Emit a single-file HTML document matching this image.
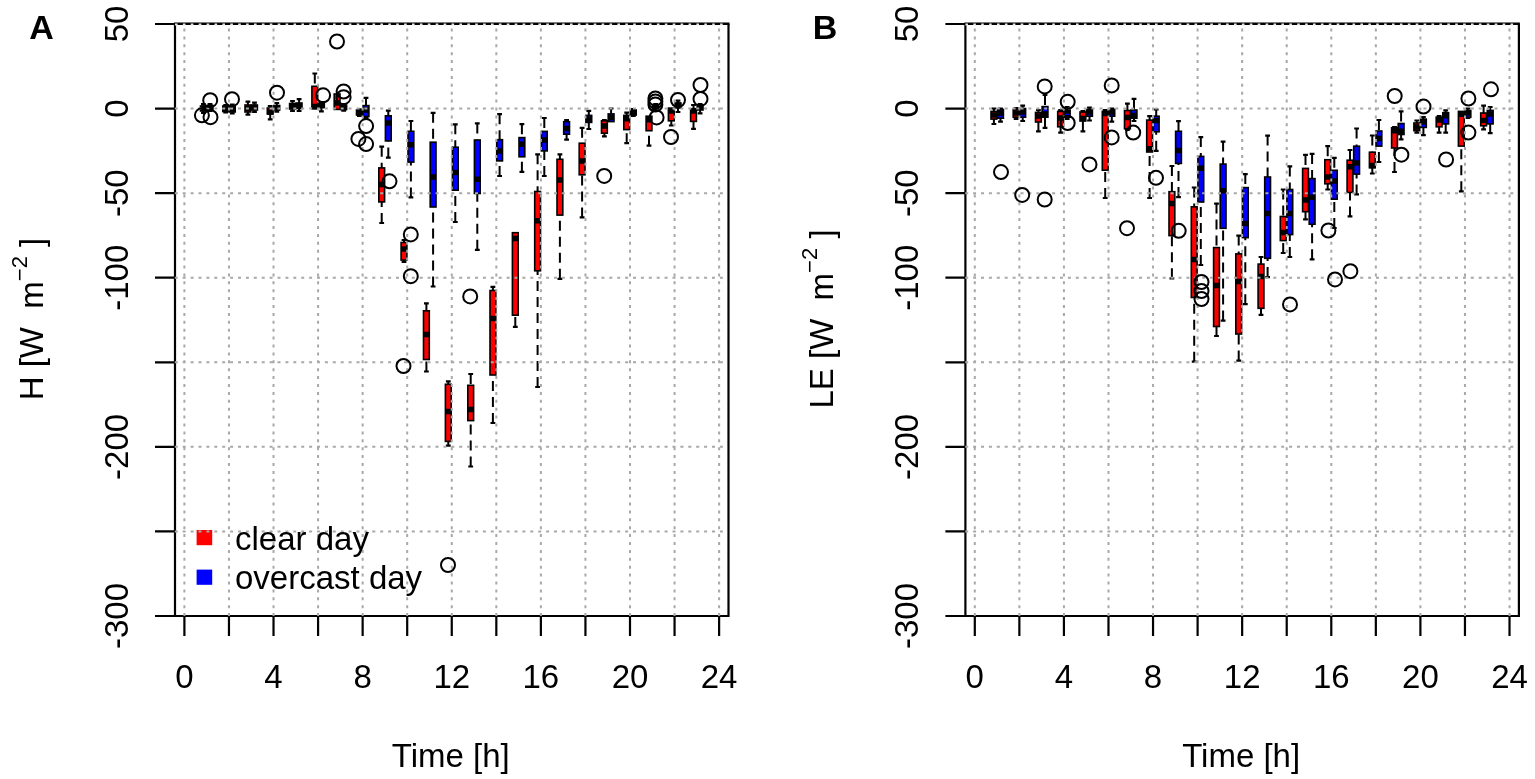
<!DOCTYPE html>
<html><head><meta charset="utf-8"><title>H and LE boxplots</title>
<style>
html,body{margin:0;padding:0;background:#fff;}
body{width:1535px;height:779px;overflow:hidden;}
svg{display:block;}
.t{font-family:'Liberation Sans',Arial,sans-serif;font-size:33px;fill:#000;}
.lab{font-family:'Liberation Sans',Arial,sans-serif;font-size:34px;font-weight:bold;fill:#000;}
</style></head>
<body>
<svg width="1535" height="779" viewBox="0 0 1535 779">
<rect width="1535" height="779" fill="#fff"/>
<path d="M175 24V616H728.5V24" stroke="#000" stroke-width="2.2" fill="none"/>
<path d="M174 23.8H729.5" stroke="#000" stroke-width="2.6" fill="none"/>
<path d="M155 24H175M155 108.57H175M155 193.14H175M155 277.71H175M155 362.29H175M155 446.86H175M155 531.43H175M155 616H175M184.4 616V636M228.96 616V636M273.52 616V636M318.08 616V636M362.64 616V636M407.2 616V636M451.76 616V636M496.32 616V636M540.88 616V636M585.44 616V636M630 616V636M674.56 616V636M719.12 616V636" stroke="#000" stroke-width="2.2" fill="none"/>
<path d="M203.4 104V106M203.4 113V111M210 104V105.5M210 111V109.5M225.7 105V106M225.7 112.5V111.5M232.3 104.5V106M232.3 113.5V112M247.9 101.6V105M247.9 114.6V112M254.5 102.7V105M254.5 112V110M270.2 106V108M270.2 119.3V114M276.8 103V105.5M276.8 111.6V110M292.5 101V103.5M292.5 110.8V109M299.1 99.2V103M299.1 111V108.5M314.8 73.5V86.3M321.4 102V103M321.4 111.3V107.5M343.7 104V105M343.7 110.7V109.5M359.4 109.4V110M359.4 115.8V115M366 97.9V105.6M366 118V116.5M381.7 146.7V167.9M381.7 223V201.9M388.3 110.7V115.8M388.3 157.6V140.9M404 240V242.5M404 262V260.1M410.9 121V131.3M410.9 197.4V162.1M426.4 303.4V310.8M426.4 371.5V359.5M433.1 112.8V142.2M433.1 286.5V207M448.3 381.4V384.3M448.3 445.6V441.4M455.3 124.3V147.2M455.3 222V190.2M470.7 374V385.3M470.7 466.5V420.6M477.3 123.4V140M477.3 249.8V193.5M492.9 286.8V290.5M492.9 423V375M499.6 114.2V139.7M499.6 176V160.9M515.3 326.9V315.2M521.9 124.2V137.6M521.9 171.8V156.8M537.6 154.3V191.5M537.6 387V270.8M544.3 118V131.4M544.3 176V150.9M559.9 154.3V159.3M559.9 278.8V215.1M566.6 120V121.7M566.6 139.7V134.2M582.1 127.8V143.2M582.1 217.4V174.8M588.8 110.8V115.4M588.8 129V122.4M604.4 120V120.8M604.4 136.3V133.2M611.1 108.5V113.9M626.7 112.7V115.4M626.7 143.2V129.6M633.3 109V110M633.3 116V115M649 145.7V130.7M655.6 104V105M655.6 111V109.5M671.3 125.5V120.8M678 100.6V103M678 112V108M693.5 105V108.7M693.5 128.9V121.4M700.1 104V105M700.1 113.3V110" stroke="#000" stroke-width="2" stroke-dasharray="10 6" fill="none"/>
<path d="M201 104H205.8M201 113H205.8M207.6 104H212.4M207.6 111H212.4M223.3 105H228.1M223.3 112.5H228.1M229.9 104.5H234.7M229.9 113.5H234.7M245.5 101.6H250.3M245.5 114.6H250.3M252.1 102.7H256.9M252.1 112H256.9M267.8 106H272.6M267.8 119.3H272.6M274.4 103H279.2M274.4 111.6H279.2M290.1 101H294.9M290.1 110.8H294.9M296.7 99.2H301.5M296.7 111H301.5M312.4 73.5H317.2M319 102H323.8M319 111.3H323.8M341.3 104H346.1M341.3 110.7H346.1M357 109.4H361.8M357 115.8H361.8M363.6 97.9H368.4M363.6 118H368.4M379.3 146.7H384.1M379.3 223H384.1M385.9 110.7H390.7M385.9 157.6H390.7M401.6 240H406.4M401.6 262H406.4M408.5 121H413.3M408.5 197.4H413.3M424 303.4H428.8M424 371.5H428.8M430.7 112.8H435.5M430.7 286.5H435.5M445.9 381.4H450.7M445.9 445.6H450.7M452.9 124.3H457.7M452.9 222H457.7M468.3 374H473.1M468.3 466.5H473.1M474.9 123.4H479.7M474.9 249.8H479.7M490.5 286.8H495.3M490.5 423H495.3M497.2 114.2H502M497.2 176H502M512.9 326.9H517.7M519.5 124.2H524.3M519.5 171.8H524.3M535.2 154.3H540M535.2 387H540M541.9 118H546.7M541.9 176H546.7M557.5 154.3H562.3M557.5 278.8H562.3M564.2 120H569M564.2 139.7H569M579.7 127.8H584.5M579.7 217.4H584.5M586.4 110.8H591.2M586.4 129H591.2M602 120H606.8M602 136.3H606.8M608.7 108.5H613.5M624.3 112.7H629.1M624.3 143.2H629.1M630.9 109H635.7M630.9 116H635.7M646.6 145.7H651.4M653.2 104H658M653.2 111H658M668.9 125.5H673.7M675.6 100.6H680.4M675.6 112H680.4M691.1 105H695.9M691.1 128.9H695.9M697.7 104H702.5M697.7 113.3H702.5" stroke="#000" stroke-width="2.2" fill="none"/>
<rect x="200.5" y="106" width="5.8" height="5" fill="#ff0000" stroke="#000" stroke-width="1.6"/>
<rect x="207.1" y="105.5" width="5.8" height="4" fill="#0000ff" stroke="#000" stroke-width="1.6"/>
<rect x="222.8" y="106" width="5.8" height="5.5" fill="#ff0000" stroke="#000" stroke-width="1.6"/>
<rect x="229.4" y="106" width="5.8" height="6" fill="#0000ff" stroke="#000" stroke-width="1.6"/>
<rect x="245" y="105" width="5.8" height="7" fill="#ff0000" stroke="#000" stroke-width="1.6"/>
<rect x="251.6" y="105" width="5.8" height="5" fill="#0000ff" stroke="#000" stroke-width="1.6"/>
<rect x="267.3" y="108" width="5.8" height="6" fill="#ff0000" stroke="#000" stroke-width="1.6"/>
<rect x="273.9" y="105.5" width="5.8" height="4.5" fill="#0000ff" stroke="#000" stroke-width="1.6"/>
<rect x="289.6" y="103.5" width="5.8" height="5.5" fill="#ff0000" stroke="#000" stroke-width="1.6"/>
<rect x="296.2" y="103" width="5.8" height="5.5" fill="#0000ff" stroke="#000" stroke-width="1.6"/>
<rect x="311.9" y="86.3" width="5.8" height="22.5" fill="#ff0000" stroke="#000" stroke-width="1.6"/>
<rect x="318.5" y="103" width="5.8" height="4.5" fill="#0000ff" stroke="#000" stroke-width="1.6"/>
<rect x="334.2" y="94" width="5.8" height="15.4" fill="#ff0000" stroke="#000" stroke-width="1.6"/>
<rect x="340.8" y="105" width="5.8" height="4.5" fill="#0000ff" stroke="#000" stroke-width="1.6"/>
<rect x="356.5" y="110" width="5.8" height="5" fill="#ff0000" stroke="#000" stroke-width="1.6"/>
<rect x="363.1" y="105.6" width="5.8" height="10.9" fill="#0000ff" stroke="#000" stroke-width="1.6"/>
<rect x="378.8" y="167.9" width="5.8" height="34" fill="#ff0000" stroke="#000" stroke-width="1.6"/>
<rect x="385.4" y="115.8" width="5.8" height="25.1" fill="#0000ff" stroke="#000" stroke-width="1.6"/>
<rect x="401.1" y="242.5" width="5.8" height="17.6" fill="#ff0000" stroke="#000" stroke-width="1.6"/>
<rect x="408" y="131.3" width="5.8" height="30.8" fill="#0000ff" stroke="#000" stroke-width="1.6"/>
<rect x="423.5" y="310.8" width="5.8" height="48.7" fill="#ff0000" stroke="#000" stroke-width="1.6"/>
<rect x="430.2" y="142.2" width="5.8" height="64.8" fill="#0000ff" stroke="#000" stroke-width="1.6"/>
<rect x="445.4" y="384.3" width="5.8" height="57.1" fill="#ff0000" stroke="#000" stroke-width="1.6"/>
<rect x="452.4" y="147.2" width="5.8" height="43" fill="#0000ff" stroke="#000" stroke-width="1.6"/>
<rect x="467.8" y="385.3" width="5.8" height="35.3" fill="#ff0000" stroke="#000" stroke-width="1.6"/>
<rect x="474.4" y="140" width="5.8" height="53.5" fill="#0000ff" stroke="#000" stroke-width="1.6"/>
<rect x="490" y="290.5" width="5.8" height="84.5" fill="#ff0000" stroke="#000" stroke-width="1.6"/>
<rect x="496.7" y="139.7" width="5.8" height="21.2" fill="#0000ff" stroke="#000" stroke-width="1.6"/>
<rect x="512.4" y="232.7" width="5.8" height="82.5" fill="#ff0000" stroke="#000" stroke-width="1.6"/>
<rect x="519" y="137.6" width="5.8" height="19.2" fill="#0000ff" stroke="#000" stroke-width="1.6"/>
<rect x="534.7" y="191.5" width="5.8" height="79.3" fill="#ff0000" stroke="#000" stroke-width="1.6"/>
<rect x="541.4" y="131.4" width="5.8" height="19.5" fill="#0000ff" stroke="#000" stroke-width="1.6"/>
<rect x="557" y="159.3" width="5.8" height="55.8" fill="#ff0000" stroke="#000" stroke-width="1.6"/>
<rect x="563.7" y="121.7" width="5.8" height="12.5" fill="#0000ff" stroke="#000" stroke-width="1.6"/>
<rect x="579.2" y="143.2" width="5.8" height="31.6" fill="#ff0000" stroke="#000" stroke-width="1.6"/>
<rect x="585.9" y="115.4" width="5.8" height="7" fill="#0000ff" stroke="#000" stroke-width="1.6"/>
<rect x="601.5" y="120.8" width="5.8" height="12.4" fill="#ff0000" stroke="#000" stroke-width="1.6"/>
<rect x="608.2" y="113.9" width="5.8" height="7.7" fill="#0000ff" stroke="#000" stroke-width="1.6"/>
<rect x="623.8" y="115.4" width="5.8" height="14.2" fill="#ff0000" stroke="#000" stroke-width="1.6"/>
<rect x="630.4" y="110" width="5.8" height="5" fill="#0000ff" stroke="#000" stroke-width="1.6"/>
<rect x="646.1" y="116.2" width="5.8" height="14.5" fill="#ff0000" stroke="#000" stroke-width="1.6"/>
<rect x="652.7" y="105" width="5.8" height="4.5" fill="#0000ff" stroke="#000" stroke-width="1.6"/>
<rect x="668.4" y="108.1" width="5.8" height="12.7" fill="#ff0000" stroke="#000" stroke-width="1.6"/>
<rect x="675.1" y="103" width="5.8" height="5" fill="#0000ff" stroke="#000" stroke-width="1.6"/>
<rect x="690.6" y="108.7" width="5.8" height="12.7" fill="#ff0000" stroke="#000" stroke-width="1.6"/>
<rect x="697.2" y="105" width="5.8" height="5" fill="#0000ff" stroke="#000" stroke-width="1.6"/>
<path d="M200.5 108.5H206.3M207.1 107.5H212.9M222.8 109H228.6M229.4 109H235.2M245 108.5H250.8M251.6 107.5H257.4M267.3 112H273.1M273.9 108H279.7M289.6 106.5H295.4M296.2 106H302M311.9 106.5H317.7M318.5 105.5H324.3M334.2 103H340M340.8 107.5H346.6M356.5 112.5H362.3M363.1 110H368.9M378.8 184.5H384.6M385.4 122.9H391.2M401.1 248.9H406.9M408 144.8H413.8M423.5 334.5H429.3M430.2 176.9H436M445.4 411.6H451.2M452.4 172.5H458.2M467.8 409.4H473.6M474.4 179.3H480.2M490 318.5H495.8M496.7 150.9H502.5M512.4 238.4H518.2M519 144.2H524.8M534.7 220.7H540.5M541.4 140H547.2M557 180.1H562.8M563.7 128.4H569.5M579.2 160.9H585M585.9 119H591.7M601.5 126H607.3M608.2 117.5H614M623.8 118.8H629.6M630.4 112.5H636.2M646.1 119.7H651.9M652.7 107H658.5M668.4 111H674.2M675.1 105H680.9M690.6 111H696.4M697.2 107H703" stroke="#000" stroke-width="5.5" fill="none"/>
<rect x="196.6" y="530" width="15.6" height="15.2" fill="#ff0000"/>
<rect x="196.6" y="569.6" width="15.6" height="15.2" fill="#0000ff"/>
<path d="M184.4 28.5V617M228.96 28.5V617M273.52 28.5V617M318.08 28.5V617M362.64 28.5V617M407.2 28.5V617M451.76 28.5V617M496.32 28.5V617M540.88 28.5V617M585.44 28.5V617M630 28.5V617M674.56 28.5V617M719.12 28.5V617M174.8 108.57H727.5M174.8 193.14H727.5M174.8 277.71H727.5M174.8 362.29H727.5M174.8 446.86H727.5M174.8 531.43H727.5" stroke="#a8a8a8" stroke-width="2" stroke-dasharray="3 4.9" fill="none"/>
<path d="M175 24.5H727.5" stroke="#e6e6e6" stroke-width="1.8" stroke-dasharray="2.6 5.3" fill="none"/>
<circle cx="210.2" cy="100.2" r="7" fill="none" stroke="#000" stroke-width="2"/>
<circle cx="201.9" cy="115.3" r="7" fill="none" stroke="#000" stroke-width="2"/>
<circle cx="210.5" cy="117.2" r="7" fill="none" stroke="#000" stroke-width="2"/>
<circle cx="232" cy="99.2" r="7" fill="none" stroke="#000" stroke-width="2"/>
<circle cx="277" cy="92.7" r="7" fill="none" stroke="#000" stroke-width="2"/>
<circle cx="323.1" cy="95.3" r="7" fill="none" stroke="#000" stroke-width="2"/>
<circle cx="337" cy="41.5" r="7" fill="none" stroke="#000" stroke-width="2"/>
<circle cx="343.6" cy="91.5" r="7" fill="none" stroke="#000" stroke-width="2"/>
<circle cx="343.6" cy="97.2" r="7" fill="none" stroke="#000" stroke-width="2"/>
<circle cx="366.1" cy="126.1" r="7" fill="none" stroke="#000" stroke-width="2"/>
<circle cx="358.4" cy="138.9" r="7" fill="none" stroke="#000" stroke-width="2"/>
<circle cx="366.1" cy="144.1" r="7" fill="none" stroke="#000" stroke-width="2"/>
<circle cx="389.5" cy="181.3" r="7" fill="none" stroke="#000" stroke-width="2"/>
<circle cx="410.8" cy="234.4" r="7" fill="none" stroke="#000" stroke-width="2"/>
<circle cx="410.8" cy="276.2" r="7" fill="none" stroke="#000" stroke-width="2"/>
<circle cx="403.5" cy="366" r="7" fill="none" stroke="#000" stroke-width="2"/>
<circle cx="470.2" cy="296.4" r="7" fill="none" stroke="#000" stroke-width="2"/>
<circle cx="448" cy="565" r="7" fill="none" stroke="#000" stroke-width="2"/>
<circle cx="604.2" cy="175.9" r="7" fill="none" stroke="#000" stroke-width="2"/>
<circle cx="655.4" cy="98.5" r="7" fill="none" stroke="#000" stroke-width="2"/>
<circle cx="655.4" cy="101.5" r="7" fill="none" stroke="#000" stroke-width="2"/>
<circle cx="655.4" cy="104.5" r="7" fill="none" stroke="#000" stroke-width="2"/>
<circle cx="656.6" cy="117.4" r="7" fill="none" stroke="#000" stroke-width="2"/>
<circle cx="678" cy="100" r="7" fill="none" stroke="#000" stroke-width="2"/>
<circle cx="671" cy="137" r="7" fill="none" stroke="#000" stroke-width="2"/>
<circle cx="700.5" cy="85" r="7" fill="none" stroke="#000" stroke-width="2"/>
<circle cx="700.5" cy="98.9" r="7" fill="none" stroke="#000" stroke-width="2"/>
<text transform="translate(128 24) rotate(-90)" text-anchor="middle" class="t">50</text>
<text transform="translate(128 108.57) rotate(-90)" text-anchor="middle" class="t">0</text>
<text transform="translate(128 193.14) rotate(-90)" text-anchor="middle" class="t">-50</text>
<text transform="translate(128 277.71) rotate(-90)" text-anchor="middle" class="t">-100</text>
<text transform="translate(128 446.86) rotate(-90)" text-anchor="middle" class="t">-200</text>
<text transform="translate(128 616) rotate(-90)" text-anchor="middle" class="t">-300</text>
<text x="184.4" y="687.5" text-anchor="middle" class="t">0</text>
<text x="273.52" y="687.5" text-anchor="middle" class="t">4</text>
<text x="362.64" y="687.5" text-anchor="middle" class="t">8</text>
<text x="451.76" y="687.5" text-anchor="middle" class="t">12</text>
<text x="540.88" y="687.5" text-anchor="middle" class="t">16</text>
<text x="630" y="687.5" text-anchor="middle" class="t">20</text>
<text x="719.12" y="687.5" text-anchor="middle" class="t">24</text>
<text x="450.75" y="767" text-anchor="middle" class="t">Time [h]</text>
<text transform="translate(42.5 319) rotate(-90)" text-anchor="middle" class="t">H [W&#160; m<tspan dy="-16" font-size="22">&#8722;2</tspan><tspan dy="16">&#160;]</tspan></text>
<text x="41.5" y="39" text-anchor="middle" class="lab">A</text>
<path d="M965.4 24V616H1518.9V24" stroke="#000" stroke-width="2.2" fill="none"/>
<path d="M964.4 23.8H1519.9" stroke="#000" stroke-width="2.6" fill="none"/>
<path d="M945.4 24H965.4M945.4 108.57H965.4M945.4 193.14H965.4M945.4 277.71H965.4M945.4 362.29H965.4M945.4 446.86H965.4M945.4 531.43H965.4M945.4 616H965.4M974.8 616V636M1019.36 616V636M1063.92 616V636M1108.48 616V636M1153.04 616V636M1197.6 616V636M1242.16 616V636M1286.72 616V636M1331.28 616V636M1375.84 616V636M1420.4 616V636M1464.96 616V636M1509.52 616V636" stroke="#000" stroke-width="2.2" fill="none"/>
<path d="M993.9 108.5V111.4M993.9 124V119.1M1000.5 108.5V109.5M1000.5 121.6V118.2M1016.1 108V109.5M1016.1 119V117.2M1022.7 105.6V108.5M1022.7 121V117.2M1038.4 110V112.4M1038.4 131.3V122M1045 95V106.6M1045 127.8V117.2M1060.6 110V111.4M1060.6 132.6V126.8M1067.2 107V108.5M1067.2 119V117.2M1082.9 111V112M1082.9 131.3V121M1089.5 107.6V109.5M1089.5 120.5V116.2M1105.2 110V111.4M1105.2 198V170.2M1111.8 108.5V109.5M1111.8 121.6V116.2M1127.4 103.7V110.5M1127.4 130V128.8M1134 98.9V110M1134 121V118.2M1149.6 116.2V120.1M1149.6 198V152M1156.2 109.5V116.2M1156.2 150.8V131.8M1171.9 166V191.7M1171.9 278.3V235.6M1178.5 121.1V131.3M1178.5 197.1V163.4M1194.2 187.5V206.8M1194.2 361.7V297.5M1200.8 137.1V156.4M1200.8 265V202M1216.5 203.6V247.6M1216.5 336V326.5M1223.1 141.6V164.1M1223.1 320.6V228.3M1238.7 235.6V253.9M1238.7 360.6V334M1245.3 174.1V187.6M1245.3 304.2V237.6M1261 257V264.1M1261 314.9V308.3M1267.6 135.6V177M1267.6 277.1V258.3M1283.2 189.5V216.5M1283.2 253V240.6M1289.8 166.4V189.5M1289.8 257V234.6M1305.5 154.9V168.4M1305.5 219.4V211.7M1312.1 153.9V178.6M1312.1 259.3V224.2M1327.7 146.2V159.7M1327.7 189.5V183.8M1334.3 157.8V170.3M1334.3 228V199.2M1350 150V160.2M1350 216.4V192.4M1356.6 128.5V146.2M1356.6 194.4V174.1M1372.3 135.5V152.2M1372.3 173.5V167.8M1378.9 120V131M1378.9 162V146.1M1394.5 127V127.8M1394.5 172V148M1401.1 111.4V123.5M1401.1 139.3V134.5M1416.8 120.5V123M1416.8 132.6V130.7M1423.4 117V119.1M1423.4 135.1V127.4M1439.1 116V117.2M1439.1 132.6V126.8M1445.7 110.4V112.7M1445.7 132.6V123.9M1461.3 191.3V146.1M1467.9 108.5V110.4M1467.9 118V117.2M1483.6 105.6V113M1483.6 129.3V125.8M1490.2 107V110.4M1490.2 133.2V123.9" stroke="#000" stroke-width="2" stroke-dasharray="10 6" fill="none"/>
<path d="M991.5 108.5H996.3M991.5 124H996.3M998.1 108.5H1002.9M998.1 121.6H1002.9M1013.7 108H1018.5M1013.7 119H1018.5M1020.3 105.6H1025.1M1020.3 121H1025.1M1036 110H1040.8M1036 131.3H1040.8M1042.6 95H1047.4M1042.6 127.8H1047.4M1058.2 110H1063M1058.2 132.6H1063M1064.8 107H1069.6M1064.8 119H1069.6M1080.5 111H1085.3M1080.5 131.3H1085.3M1087.1 107.6H1091.9M1087.1 120.5H1091.9M1102.8 110H1107.6M1102.8 198H1107.6M1109.4 108.5H1114.2M1109.4 121.6H1114.2M1125 103.7H1129.8M1125 130H1129.8M1131.6 98.9H1136.4M1131.6 121H1136.4M1147.2 116.2H1152M1147.2 198H1152M1153.8 109.5H1158.6M1153.8 150.8H1158.6M1169.5 166H1174.3M1169.5 278.3H1174.3M1176.1 121.1H1180.9M1176.1 197.1H1180.9M1191.8 187.5H1196.6M1191.8 361.7H1196.6M1198.4 137.1H1203.2M1198.4 265H1203.2M1214.1 203.6H1218.9M1214.1 336H1218.9M1220.7 141.6H1225.5M1220.7 320.6H1225.5M1236.3 235.6H1241.1M1236.3 360.6H1241.1M1242.9 174.1H1247.7M1242.9 304.2H1247.7M1258.6 257H1263.4M1258.6 314.9H1263.4M1265.2 135.6H1270M1265.2 277.1H1270M1280.8 189.5H1285.6M1280.8 253H1285.6M1287.4 166.4H1292.2M1287.4 257H1292.2M1303.1 154.9H1307.9M1303.1 219.4H1307.9M1309.7 153.9H1314.5M1309.7 259.3H1314.5M1325.3 146.2H1330.1M1325.3 189.5H1330.1M1331.9 157.8H1336.7M1331.9 228H1336.7M1347.6 150H1352.4M1347.6 216.4H1352.4M1354.2 128.5H1359M1354.2 194.4H1359M1369.9 135.5H1374.7M1369.9 173.5H1374.7M1376.5 120H1381.3M1376.5 162H1381.3M1392.1 127H1396.9M1392.1 172H1396.9M1398.7 111.4H1403.5M1398.7 139.3H1403.5M1414.4 120.5H1419.2M1414.4 132.6H1419.2M1421 117H1425.8M1421 135.1H1425.8M1436.7 116H1441.5M1436.7 132.6H1441.5M1443.3 110.4H1448.1M1443.3 132.6H1448.1M1458.9 191.3H1463.7M1465.5 108.5H1470.3M1465.5 118H1470.3M1481.2 105.6H1486M1481.2 129.3H1486M1487.8 107H1492.6M1487.8 133.2H1492.6" stroke="#000" stroke-width="2.2" fill="none"/>
<rect x="991" y="111.4" width="5.8" height="7.7" fill="#ff0000" stroke="#000" stroke-width="1.6"/>
<rect x="997.6" y="109.5" width="5.8" height="8.7" fill="#0000ff" stroke="#000" stroke-width="1.6"/>
<rect x="1013.2" y="109.5" width="5.8" height="7.7" fill="#ff0000" stroke="#000" stroke-width="1.6"/>
<rect x="1019.8" y="108.5" width="5.8" height="8.7" fill="#0000ff" stroke="#000" stroke-width="1.6"/>
<rect x="1035.5" y="112.4" width="5.8" height="9.6" fill="#ff0000" stroke="#000" stroke-width="1.6"/>
<rect x="1042.1" y="106.6" width="5.8" height="10.6" fill="#0000ff" stroke="#000" stroke-width="1.6"/>
<rect x="1057.7" y="111.4" width="5.8" height="15.4" fill="#ff0000" stroke="#000" stroke-width="1.6"/>
<rect x="1064.3" y="108.5" width="5.8" height="8.7" fill="#0000ff" stroke="#000" stroke-width="1.6"/>
<rect x="1080" y="112" width="5.8" height="9" fill="#ff0000" stroke="#000" stroke-width="1.6"/>
<rect x="1086.6" y="109.5" width="5.8" height="6.7" fill="#0000ff" stroke="#000" stroke-width="1.6"/>
<rect x="1102.3" y="111.4" width="5.8" height="58.8" fill="#ff0000" stroke="#000" stroke-width="1.6"/>
<rect x="1108.9" y="109.5" width="5.8" height="6.7" fill="#0000ff" stroke="#000" stroke-width="1.6"/>
<rect x="1124.5" y="110.5" width="5.8" height="18.3" fill="#ff0000" stroke="#000" stroke-width="1.6"/>
<rect x="1131.1" y="110" width="5.8" height="8.2" fill="#0000ff" stroke="#000" stroke-width="1.6"/>
<rect x="1146.7" y="120.1" width="5.8" height="31.9" fill="#ff0000" stroke="#000" stroke-width="1.6"/>
<rect x="1153.3" y="116.2" width="5.8" height="15.6" fill="#0000ff" stroke="#000" stroke-width="1.6"/>
<rect x="1169" y="191.7" width="5.8" height="43.9" fill="#ff0000" stroke="#000" stroke-width="1.6"/>
<rect x="1175.6" y="131.3" width="5.8" height="32.1" fill="#0000ff" stroke="#000" stroke-width="1.6"/>
<rect x="1191.3" y="206.8" width="5.8" height="90.7" fill="#ff0000" stroke="#000" stroke-width="1.6"/>
<rect x="1197.9" y="156.4" width="5.8" height="45.6" fill="#0000ff" stroke="#000" stroke-width="1.6"/>
<rect x="1213.6" y="247.6" width="5.8" height="78.9" fill="#ff0000" stroke="#000" stroke-width="1.6"/>
<rect x="1220.2" y="164.1" width="5.8" height="64.2" fill="#0000ff" stroke="#000" stroke-width="1.6"/>
<rect x="1235.8" y="253.9" width="5.8" height="80.1" fill="#ff0000" stroke="#000" stroke-width="1.6"/>
<rect x="1242.4" y="187.6" width="5.8" height="50" fill="#0000ff" stroke="#000" stroke-width="1.6"/>
<rect x="1258.1" y="264.1" width="5.8" height="44.2" fill="#ff0000" stroke="#000" stroke-width="1.6"/>
<rect x="1264.7" y="177" width="5.8" height="81.3" fill="#0000ff" stroke="#000" stroke-width="1.6"/>
<rect x="1280.3" y="216.5" width="5.8" height="24.1" fill="#ff0000" stroke="#000" stroke-width="1.6"/>
<rect x="1286.9" y="189.5" width="5.8" height="45.1" fill="#0000ff" stroke="#000" stroke-width="1.6"/>
<rect x="1302.6" y="168.4" width="5.8" height="43.3" fill="#ff0000" stroke="#000" stroke-width="1.6"/>
<rect x="1309.2" y="178.6" width="5.8" height="45.6" fill="#0000ff" stroke="#000" stroke-width="1.6"/>
<rect x="1324.8" y="159.7" width="5.8" height="24.1" fill="#ff0000" stroke="#000" stroke-width="1.6"/>
<rect x="1331.4" y="170.3" width="5.8" height="28.9" fill="#0000ff" stroke="#000" stroke-width="1.6"/>
<rect x="1347.1" y="160.2" width="5.8" height="32.2" fill="#ff0000" stroke="#000" stroke-width="1.6"/>
<rect x="1353.7" y="146.2" width="5.8" height="27.9" fill="#0000ff" stroke="#000" stroke-width="1.6"/>
<rect x="1369.4" y="152.2" width="5.8" height="15.6" fill="#ff0000" stroke="#000" stroke-width="1.6"/>
<rect x="1376" y="131" width="5.8" height="15.1" fill="#0000ff" stroke="#000" stroke-width="1.6"/>
<rect x="1391.6" y="127.8" width="5.8" height="20.2" fill="#ff0000" stroke="#000" stroke-width="1.6"/>
<rect x="1398.2" y="123.5" width="5.8" height="11" fill="#0000ff" stroke="#000" stroke-width="1.6"/>
<rect x="1413.9" y="123" width="5.8" height="7.7" fill="#ff0000" stroke="#000" stroke-width="1.6"/>
<rect x="1420.5" y="119.1" width="5.8" height="8.3" fill="#0000ff" stroke="#000" stroke-width="1.6"/>
<rect x="1436.2" y="117.2" width="5.8" height="9.6" fill="#ff0000" stroke="#000" stroke-width="1.6"/>
<rect x="1442.8" y="112.7" width="5.8" height="11.2" fill="#0000ff" stroke="#000" stroke-width="1.6"/>
<rect x="1458.4" y="111.4" width="5.8" height="34.7" fill="#ff0000" stroke="#000" stroke-width="1.6"/>
<rect x="1465" y="110.4" width="5.8" height="6.8" fill="#0000ff" stroke="#000" stroke-width="1.6"/>
<rect x="1480.7" y="113" width="5.8" height="12.8" fill="#ff0000" stroke="#000" stroke-width="1.6"/>
<rect x="1487.3" y="110.4" width="5.8" height="13.5" fill="#0000ff" stroke="#000" stroke-width="1.6"/>
<path d="M991 115H996.8M997.6 113H1003.4M1013.2 113H1019M1019.8 112H1025.6M1035.5 116H1041.3M1042.1 114H1047.9M1057.7 118H1063.5M1064.3 111H1070.1M1080 118.5H1085.8M1086.6 112H1092.4M1102.3 113.4H1108.1M1108.9 112H1114.7M1124.5 117.5H1130.3M1131.1 115.5H1136.9M1146.7 148.8H1152.5M1153.3 120.5H1159.1M1169 203.6H1174.8M1175.6 150.6H1181.4M1191.3 259.5H1197.1M1197.9 168.3H1203.7M1213.6 285.4H1219.4M1220.2 190.7H1226M1235.8 281.6H1241.6M1242.4 223.4H1248.2M1258.1 276.5H1263.9M1264.7 213.6H1270.5M1280.3 232.5H1286.1M1286.9 213.6H1292.7M1302.6 200.1H1308.4M1309.2 197.2H1315M1324.8 177H1330.6M1331.4 180.9H1337.2M1347.1 166.8H1352.9M1353.7 163H1359.5M1369.4 165.5H1375.2M1376 138.4H1381.8M1391.6 130.7H1397.4M1398.2 131.3H1404M1413.9 127H1419.7M1420.5 122H1426.3M1436.2 120H1442M1442.8 115.8H1448.6M1458.4 114.3H1464.2M1465 113H1470.8M1480.7 120.5H1486.5M1487.3 114H1493.1" stroke="#000" stroke-width="5.5" fill="none"/>

<path d="M974.8 28.5V617M1019.36 28.5V617M1063.92 28.5V617M1108.48 28.5V617M1153.04 28.5V617M1197.6 28.5V617M1242.16 28.5V617M1286.72 28.5V617M1331.28 28.5V617M1375.84 28.5V617M1420.4 28.5V617M1464.96 28.5V617M1509.52 28.5V617M965.2 108.57H1517.9M965.2 193.14H1517.9M965.2 277.71H1517.9M965.2 362.29H1517.9M965.2 446.86H1517.9M965.2 531.43H1517.9" stroke="#a8a8a8" stroke-width="2" stroke-dasharray="3 4.9" fill="none"/>
<path d="M965.4 24.5H1517.9" stroke="#e6e6e6" stroke-width="1.8" stroke-dasharray="2.6 5.3" fill="none"/>
<circle cx="1001" cy="172.1" r="7" fill="none" stroke="#000" stroke-width="2"/>
<circle cx="1022.2" cy="194.9" r="7" fill="none" stroke="#000" stroke-width="2"/>
<circle cx="1044.7" cy="86.4" r="7" fill="none" stroke="#000" stroke-width="2"/>
<circle cx="1044.7" cy="199.5" r="7" fill="none" stroke="#000" stroke-width="2"/>
<circle cx="1067.7" cy="101.8" r="7" fill="none" stroke="#000" stroke-width="2"/>
<circle cx="1067.7" cy="123" r="7" fill="none" stroke="#000" stroke-width="2"/>
<circle cx="1089.5" cy="164.4" r="7" fill="none" stroke="#000" stroke-width="2"/>
<circle cx="1111.7" cy="85.4" r="7" fill="none" stroke="#000" stroke-width="2"/>
<circle cx="1111.7" cy="137.4" r="7" fill="none" stroke="#000" stroke-width="2"/>
<circle cx="1133.2" cy="132.6" r="7" fill="none" stroke="#000" stroke-width="2"/>
<circle cx="1127" cy="228.2" r="7" fill="none" stroke="#000" stroke-width="2"/>
<circle cx="1156" cy="177.8" r="7" fill="none" stroke="#000" stroke-width="2"/>
<circle cx="1178.7" cy="230.8" r="7" fill="none" stroke="#000" stroke-width="2"/>
<circle cx="1201.5" cy="282" r="7" fill="none" stroke="#000" stroke-width="2"/>
<circle cx="1201.5" cy="291" r="7" fill="none" stroke="#000" stroke-width="2"/>
<circle cx="1201.5" cy="299" r="7" fill="none" stroke="#000" stroke-width="2"/>
<circle cx="1290" cy="304.4" r="7" fill="none" stroke="#000" stroke-width="2"/>
<circle cx="1328.4" cy="230.5" r="7" fill="none" stroke="#000" stroke-width="2"/>
<circle cx="1335" cy="279.4" r="7" fill="none" stroke="#000" stroke-width="2"/>
<circle cx="1350.4" cy="271.2" r="7" fill="none" stroke="#000" stroke-width="2"/>
<circle cx="1394.7" cy="96" r="7" fill="none" stroke="#000" stroke-width="2"/>
<circle cx="1401.4" cy="154.7" r="7" fill="none" stroke="#000" stroke-width="2"/>
<circle cx="1423.5" cy="106.6" r="7" fill="none" stroke="#000" stroke-width="2"/>
<circle cx="1446.1" cy="159.5" r="7" fill="none" stroke="#000" stroke-width="2"/>
<circle cx="1468.4" cy="98.5" r="7" fill="none" stroke="#000" stroke-width="2"/>
<circle cx="1468.4" cy="132.6" r="7" fill="none" stroke="#000" stroke-width="2"/>
<circle cx="1491" cy="89.3" r="7" fill="none" stroke="#000" stroke-width="2"/>
<text transform="translate(918.4 24) rotate(-90)" text-anchor="middle" class="t">50</text>
<text transform="translate(918.4 108.57) rotate(-90)" text-anchor="middle" class="t">0</text>
<text transform="translate(918.4 193.14) rotate(-90)" text-anchor="middle" class="t">-50</text>
<text transform="translate(918.4 277.71) rotate(-90)" text-anchor="middle" class="t">-100</text>
<text transform="translate(918.4 446.86) rotate(-90)" text-anchor="middle" class="t">-200</text>
<text transform="translate(918.4 616) rotate(-90)" text-anchor="middle" class="t">-300</text>
<text x="974.8" y="687.5" text-anchor="middle" class="t">0</text>
<text x="1063.92" y="687.5" text-anchor="middle" class="t">4</text>
<text x="1153.04" y="687.5" text-anchor="middle" class="t">8</text>
<text x="1242.16" y="687.5" text-anchor="middle" class="t">12</text>
<text x="1331.28" y="687.5" text-anchor="middle" class="t">16</text>
<text x="1420.4" y="687.5" text-anchor="middle" class="t">20</text>
<text x="1509.52" y="687.5" text-anchor="middle" class="t">24</text>
<text x="1241.15" y="767" text-anchor="middle" class="t">Time [h]</text>
<text transform="translate(832.9 319) rotate(-90)" text-anchor="middle" class="t">LE [W&#160; m<tspan dy="-16" font-size="22">&#8722;2</tspan><tspan dy="16">&#160;]</tspan></text>
<text x="825" y="39" text-anchor="middle" class="lab">B</text>

<text x="235" y="549.5" class="t">clear day</text>
<text x="235" y="589" class="t">overcast day</text>

</svg>
</body></html>
